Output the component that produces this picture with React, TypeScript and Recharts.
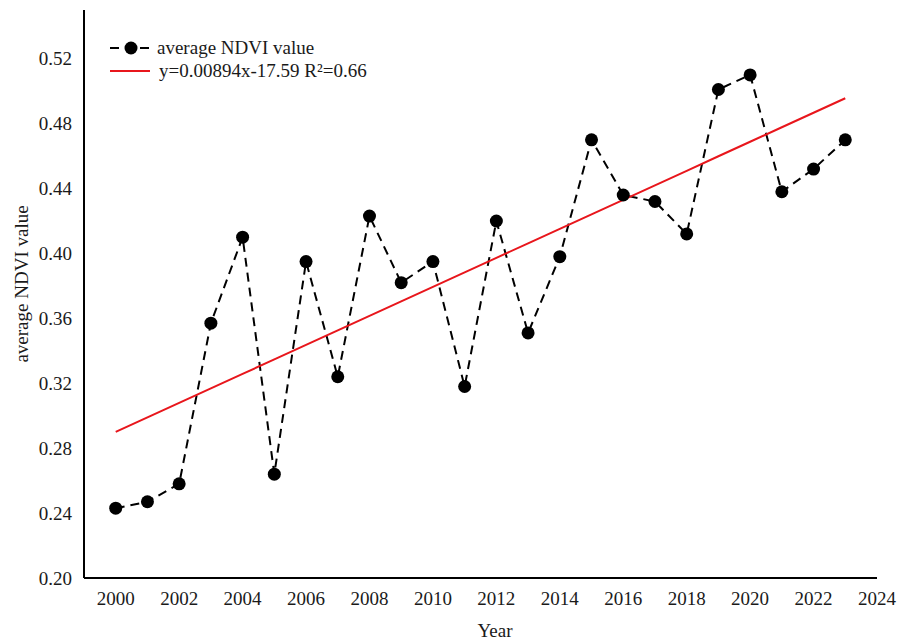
import { LineChart, Line, XAxis, YAxis, Legend, Label } from 'recharts'

const years = [
  2000, 2001, 2002, 2003, 2004, 2005, 2006, 2007, 2008, 2009, 2010, 2011,
  2012, 2013, 2014, 2015, 2016, 2017, 2018, 2019, 2020, 2021, 2022, 2023,
]
const ndvi = [
  0.243, 0.247, 0.258, 0.357, 0.41, 0.264, 0.395, 0.324, 0.423, 0.382, 0.395, 0.318,
  0.42, 0.351, 0.398, 0.47, 0.436, 0.432, 0.412, 0.501, 0.51, 0.438, 0.452, 0.47,
]
const xTicks = [2000, 2002, 2004, 2006, 2008, 2010, 2012, 2014, 2016, 2018, 2020, 2022, 2024]
const yTicks = [0.2, 0.24, 0.28, 0.32, 0.36, 0.4, 0.44, 0.48, 0.52]

// linear trend from the fitted equation
const SLOPE = 0.00894
const INTERCEPT = -17.59

const data = years.map((year, i) => ({
  year,
  ndvi: ndvi[i],
  fit: SLOPE * year + INTERCEPT,
}))

const FONT = '"Liberation Serif", "Times New Roman", serif'
const INK = '#1a1a1a'
const RED = '#e8161c'

function TrendLegend() {
  const row = { display: 'flex', alignItems: 'center', height: 23 }
  return (
    <div style={{ fontFamily: FONT, fontSize: 19, color: INK, lineHeight: 1 }}>
      <div style={row}>
        <svg width={48} height={16}>
          <line x1={1} y1={8} x2={44} y2={8} stroke="#000" strokeWidth={2} strokeDasharray="9 6" />
          <circle cx={22} cy={8} r={6.5} fill="#000" />
        </svg>
        <span>average NDVI value</span>
      </div>
      <div style={row}>
        <svg width={50} height={16}>
          <line x1={1} y1={8} x2={41} y2={8} stroke={RED} strokeWidth={2} />
        </svg>
        <span>y=0.00894x-17.59 R²=0.66</span>
      </div>
    </div>
  )
}

export default function App() {
  return (
    <div style={{ position: 'fixed', left: 0, top: 0, background: '#fff', fontFamily: FONT }}>
      <LineChart
        width={897}
        height={641}
        data={data}
        margin={{ top: 10, right: 20, bottom: 0, left: 0 }}
        style={{ fontFamily: FONT }}
      >
        <XAxis
          dataKey="year"
          type="number"
          domain={[1999, 2024]}
          ticks={xTicks}
          tickLine={false}
          tickMargin={8}
          height={63}
          axisLine={{ stroke: '#000', strokeWidth: 2 }}
          tick={{ fontFamily: FONT, fontSize: 19, fill: INK }}
        >
          <Label
            content={() => (
              <text x={495} y={637} textAnchor="middle" fontFamily={FONT} fontSize={19} fill={INK}>
                Year
              </text>
            )}
          />
        </XAxis>
        <YAxis
          type="number"
          domain={[0.2, 0.55]}
          ticks={yTicks}
          width={84}
          tickLine={false}
          tickMargin={6}
          tickFormatter={(v: number) => v.toFixed(2)}
          axisLine={{ stroke: '#000', strokeWidth: 2 }}
          tick={{ fontFamily: FONT, fontSize: 19, fill: INK }}
        >
          <Label
            content={() => (
              <text
                x={28}
                y={284}
                transform="rotate(-90 28 284)"
                textAnchor="middle"
                fontFamily={FONT}
                fontSize={19}
                fill={INK}
              >
                average NDVI value
              </text>
            )}
          />
        </YAxis>
        <Legend
          layout="horizontal"
          verticalAlign="middle"
          align="center"
          wrapperStyle={{ left: 109, top: 36, width: 'auto' }}
          content={() => <TrendLegend />}
        />
        <Line
          dataKey="ndvi"
          stroke="#000"
          strokeWidth={2}
          strokeDasharray="9 6"
          dot={{ r: 6.5, fill: '#000', stroke: '#000', strokeWidth: 0 }}
          isAnimationActive={false}
        />
        <Line
          dataKey="fit"
          stroke={RED}
          strokeWidth={2}
          dot={false}
          activeDot={false}
          isAnimationActive={false}
        />
      </LineChart>
    </div>
  )
}
